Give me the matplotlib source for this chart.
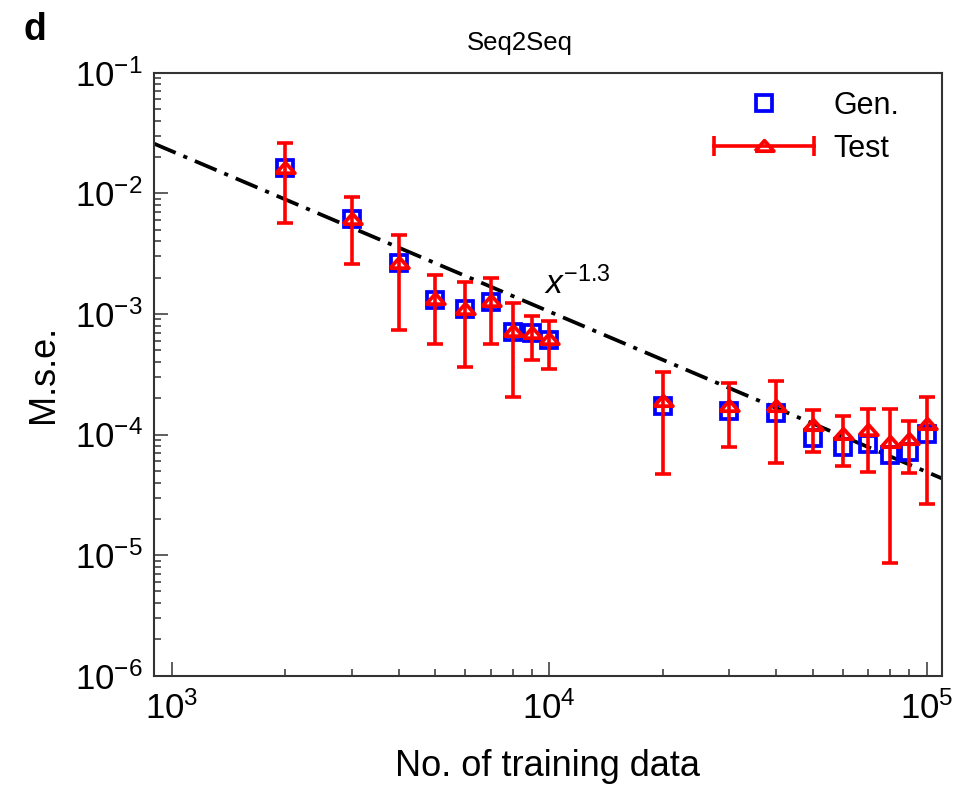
import numpy as np
import matplotlib
matplotlib.use('Agg')
from matplotlib import pyplot as plt
from matplotlib.lines import Line2D
from matplotlib.legend_handler import HandlerLine2D
from matplotlib.ticker import NullFormatter, LogLocator

plt.rcParams['font.family'] = ['Liberation Sans', 'DejaVu Sans']
plt.rcParams['mathtext.fontset'] = 'custom'
plt.rcParams['mathtext.rm'] = 'Liberation Sans'
plt.rcParams['mathtext.it'] = 'Liberation Sans:italic'
plt.rcParams['mathtext.default'] = 'regular'
plt.rcParams['lines.scale_dashes'] = False

# training set sizes
n_train = [2000, 3000, 4000, 5000, 6000, 7000, 8000, 9000, 10000,
           20000, 30000, 40000, 50000, 60000, 70000, 80000, 90000, 100000]

# generalisation error (squares)
gen_mse = [0.0161, 0.00608, 0.00263, 0.00130, 0.00109, 0.00126, 0.00071, 0.00069, 0.00061,
           1.72e-4, 1.57e-4, 1.52e-4, 9.3e-5, 7.9e-5, 8.3e-5, 6.8e-5, 7.1e-5, 1.01e-4]

# test error (triangles) with upper / lower ends of the error bars
test_mse = [0.0163, 0.0061, 0.00265, 0.00132, 0.00110, 0.00128, 0.00072, 0.00070, 0.00062,
            1.88e-4, 1.72e-4, 1.74e-4, 1.19e-4, 1.01e-4, 1.09e-4, 8.7e-5, 9.1e-5, 1.23e-4]
test_hi = [0.0263, 0.00937, 0.00451, 0.0021, 0.00183, 0.00197, 0.00122, 0.00096, 0.00087,
           3.32e-4, 2.66e-4, 2.8e-4, 1.6e-4, 1.43e-4, 1.63e-4, 1.62e-4, 1.3e-4, 2.06e-4]
test_lo = [0.0057, 0.0026, 0.00073, 0.00056, 0.00036, 0.00056, 2.06e-4, 4.15e-4, 3.47e-4,
           4.7e-5, 7.9e-5, 5.8e-5, 7.2e-5, 5.5e-5, 4.9e-5, 8.65e-6, 4.8e-5, 2.64e-5]

# power-law guide line  y = 10**fit_logc * x**fit_slope
fit_slope = -1.33
fit_logc = 2.34

x = np.array(n_train)
gen = np.array(gen_mse)
test = np.array(test_mse)
yerr = np.vstack([test - np.array(test_lo), np.array(test_hi) - test])

fig = plt.figure(figsize=(9.62, 7.86), dpi=100)
ax = fig.add_axes([0.160, 0.1403, 0.819, 0.7672])

ax.set_xscale('log')
ax.set_yscale('log')
ax.set_xlim(898, 1.097e5)
ax.set_ylim(1e-6, 1e-1)

# guide line across the full axis range
xl = np.array(ax.get_xlim())
ax.plot(xl, 10 ** fit_logc * xl ** fit_slope, color='black', lw=2.7,
        dashes=(17, 6, 3, 6), zorder=2)

tri = [(-1, -0.5), (1, -0.5), (0, 0.62), (-1, -0.5)]

ax.plot(x, gen, ls='none', marker='s', ms=11, mfc='none', mec='#0000ff', mew=2.7, zorder=3)
ax.errorbar(x, test, yerr=yerr, fmt='none', ecolor='#ff0000', elinewidth=2.6,
            capsize=5.8, capthick=2.6, zorder=4)
ax.plot(x, test, ls='none', marker=tri, ms=13.5, mfc='none', mec='#ff0000', mew=2.7, zorder=5)

ax.text(9700, 1.45e-3, r'$\mathit{x}^{-1.3}$', fontsize=24, ha='left', va='baseline')

# axes styling
for s in ax.spines.values():
    s.set_color('#333333')
    s.set_linewidth(1.5)
ax.tick_params(which='both', direction='in', top=False, right=False, color='#333333', width=1.1)
ax.tick_params(which='major', length=10, labelsize=25)
ax.tick_params(which='minor', length=5)
ax.tick_params(axis='x', which='major', pad=11)
ax.tick_params(axis='y', which='major', pad=8)
ax.xaxis.set_minor_locator(LogLocator(base=10, subs=np.arange(2, 10), numticks=20))
ax.yaxis.set_minor_locator(LogLocator(base=10, subs=np.arange(2, 10), numticks=20))
ax.xaxis.set_minor_formatter(NullFormatter())
ax.yaxis.set_minor_formatter(NullFormatter())

ax.set_xlabel('No. of training data', fontsize=26, labelpad=17)
ax.set_ylabel('M.s.e.', fontsize=26, labelpad=10)
ax.set_title('Seq2Seq', fontsize=18.5, pad=16, x=0.464)

fig.text(0.024, 0.962, 'd', fontsize=27, fontweight='bold', va='center', ha='left')

# legend: square for Gen., horizontal error bar with triangle for Test
gen_h = Line2D([], [], ls='none', marker='s', ms=11, mfc='none', mec='#0000ff', mew=2.7)
caps_h = Line2D([], [], color='#ff0000', lw=2.6, marker='|', ms=15, mew=2.6)
tri_h = Line2D([], [], ls='none', marker=tri, ms=13.5, mfc='none', mec='#ff0000', mew=2.7)
ax.legend([gen_h, (caps_h, tri_h)], ['Gen.', 'Test'], loc='upper left',
          bbox_to_anchor=(714 / 962, 1 - 91 / 786), bbox_transform=fig.transFigure,
          frameon=False, fontsize=22, borderpad=0, borderaxespad=0,
          handlelength=3.27, handletextpad=0.65, labelspacing=0.42, numpoints=1,
          handler_map={caps_h: HandlerLine2D(numpoints=2, marker_pad=0)})

fig.savefig('out.png', dpi=100)
